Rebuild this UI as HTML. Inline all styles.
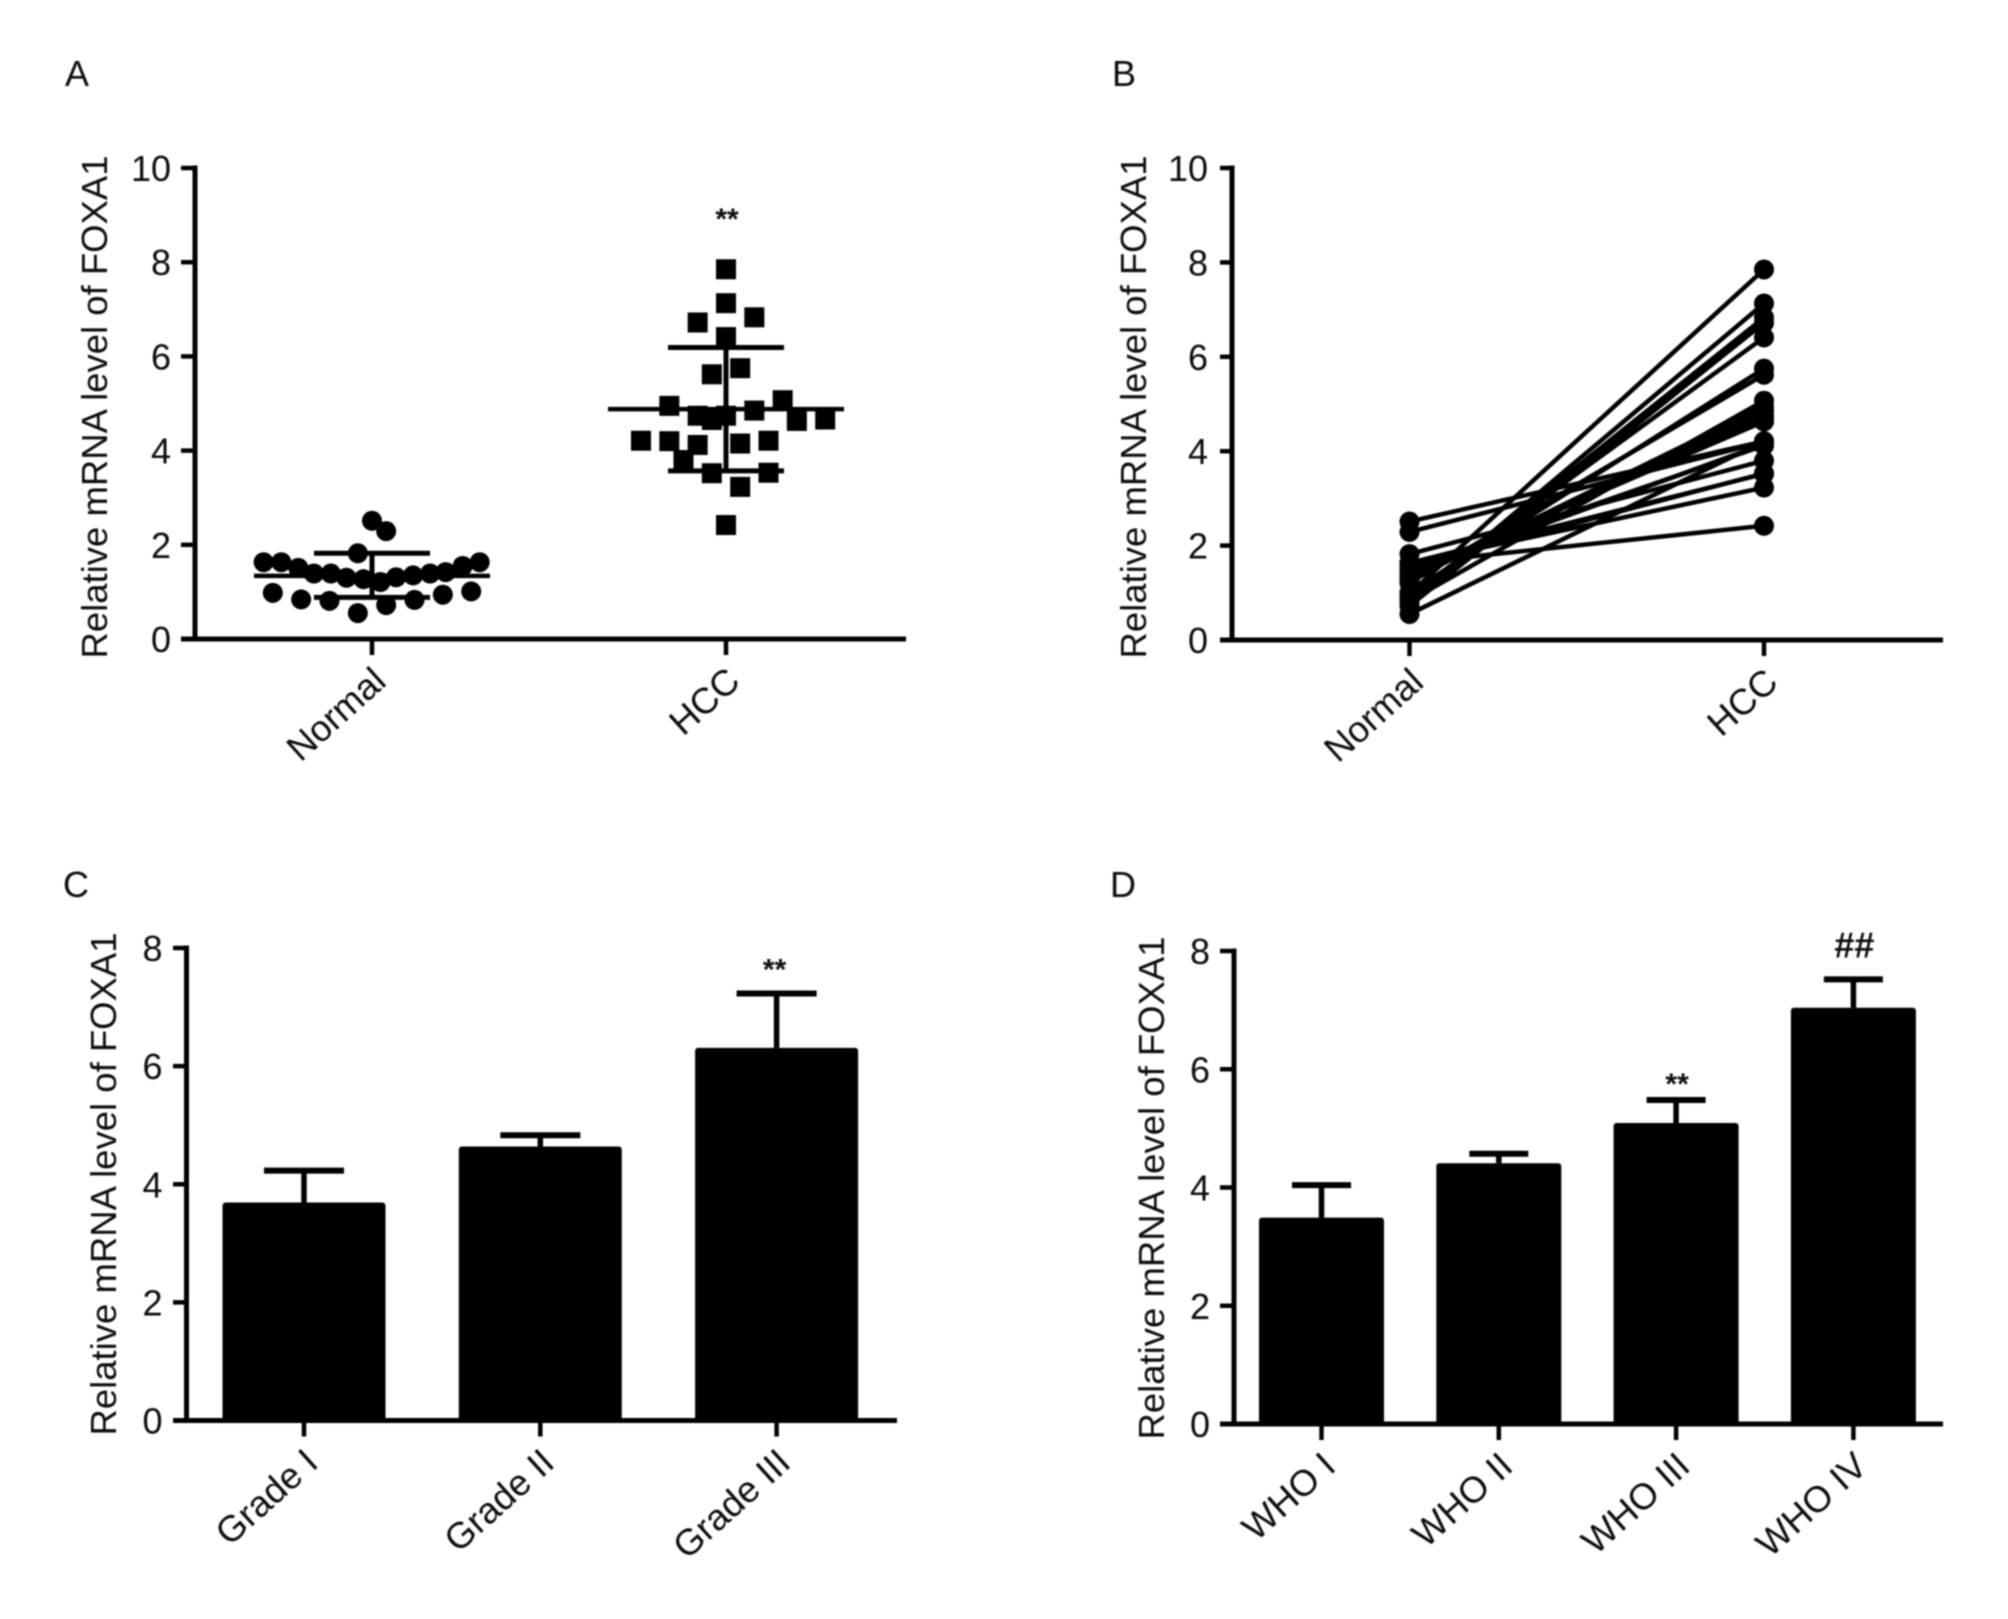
<!DOCTYPE html>
<html lang="en">
<head>
<meta charset="utf-8">
<title>Relative mRNA level of FOXA1</title>
<style>
html,body{margin:0;padding:0;background:#fff;}
svg{display:block;}
text{font-family:"Liberation Sans",Arial,sans-serif;fill:#0c0c0c;}
</style>
</head>
<body>
<svg id="figure" xmlns="http://www.w3.org/2000/svg" width="2008" height="1619" viewBox="0 0 2008 1619">
  <defs><filter id="soft" x="-5%" y="-5%" width="110%" height="110%"><feGaussianBlur stdDeviation="0.7"/></filter></defs>
  <rect x="0" y="0" width="2008" height="1619" fill="#fff"/>
  <g id="root" filter="url(#soft)"></g>
</svg>
<script>
// Panel A: dot plot values
const categoriesAB = ['Normal', 'HCC'];
const ticksAB = [0, 2, 4, 6, 8, 10];
const normalValues = [2.51, 2.29, 1.82, 1.63, 1.63, 1.63, 1.55, 1.51, 1.39, 1.39, 1.30, 1.27, 1.21, 1.31, 1.35, 1.39, 1.42, 0.98, 0.84, 0.81, 0.55, 0.72, 0.83, 0.94, 1.01];
const normalSwarm = [0, 1, -1, -7.65, -6.4, 7.6, 6.4, -5.2, -4.1, -2.9, -1.8, -0.6, 0.6, 1.7, 2.9, 4.1, 5.2, -7, -5, -3, -1, 1, 3, 5, 7];
const hccValues = [7.85, 7.13, 6.72, 6.83, 6.41, 5.62, 5.75, 4.95, 5.07, 4.85, 4.74, 4.65, 4.74, 4.63, 4.66, 4.21, 4.20, 4.12, 4.15, 4.21, 3.80, 3.52, 3.53, 3.23, 2.42];
const hccSwarm = [0, 0, -2, 2, 0, -1, 1, -4, 4, 2, -2, -1, 0, 5, 7, -6, -4, -2, 1, 3, -3, -1, 3, 1, 0];
const scatterMeans = [1.34, 4.88];
const scatterUpper = [1.82, 6.19];
const scatterLower = [0.885, 3.57];

// Panel B: paired samples
const pairedNormal = [0.98, 0.81, 0.84, 0.72, 0.94, 1.01, 1.21, 0.83, 1.27, 1.30, 1.31, 1.35, 1.39, 1.39, 1.39, 0.55, 2.51, 2.29, 1.42, 1.51, 1.82, 1.55, 1.63, 1.63, 1.63];
const pairedHcc = [7.85, 7.13, 6.83, 6.72, 6.41, 5.75, 5.62, 5.07, 4.95, 4.85, 4.74, 4.74, 4.66, 4.65, 4.63, 4.21, 4.21, 4.20, 4.15, 4.12, 3.80, 3.53, 3.52, 3.23, 2.42];

// Panel C: grade bars
const gradeCategories = ['Grade I', 'Grade II', 'Grade III'];
const gradeMeans = [3.69, 4.64, 6.31];
const gradeErrors = [4.23, 4.83, 7.23];
const gradeMarks = ['', '', '**'];

// Panel D: WHO bars
const whoCategories = ['WHO I', 'WHO II', 'WHO III', 'WHO IV'];
const whoMeans = [3.49, 4.41, 5.09, 7.04];
const whoErrors = [4.04, 4.57, 5.48, 7.52];
const whoMarks = ['', '', '**', '##'];
const ticksCD = [0, 2, 4, 6, 8];

const NS = 'http://www.w3.org/2000/svg';
const root = document.getElementById('root');
const INK = '#000';

function make(tag, attrs, parent) {
  const n = document.createElementNS(NS, tag);
  for (const k in attrs) n.setAttribute(k, attrs[k]);
  parent.appendChild(n);
  return n;
}
function lineEl(parent, x1, y1, x2, y2, w) {
  return make('line', {x1, y1, x2, y2, stroke: INK, 'stroke-width': w}, parent);
}
function scaleY(cfg, v) { return cfg.y0 - (v / cfg.max) * (cfg.y0 - cfg.yTop); }
function scaleX(cfg, i) { return cfg.xFirst + i * cfg.xStep; }

function drawAxes(cfg, ticks, cats) {
  const g = make('g', {}, root);
  
  

  const letter = make('text', {x: cfg.letterX, y: cfg.letterY, 'font-size': 36}, g);
  letter.textContent = cfg.id;
  
  

  const yAxis = lineEl(g, cfg.xAxisAt, cfg.yTop - 2.5, cfg.xAxisAt, cfg.y0 + 2.5, 5);
  
  
  const xAxis = lineEl(g, cfg.xStart, cfg.y0, cfg.xEnd, cfg.y0, 5);
  
  

  ticks.forEach(t => {
    const y = scaleY(cfg, t);
    const tick = lineEl(g, cfg.xStart, y, cfg.xAxisAt, y, 4.5);
    
    
    const label = make('text', {x: cfg.xAxisAt - 24, y: y + 13, 'font-size': 36, 'text-anchor': 'end'}, g);
    label.textContent = String(t);
    
    
  });

  cats.forEach((c, i) => {
    const x = scaleX(cfg, i);
    const tick = lineEl(g, x, cfg.y0, x, cfg.y0 + 16, 4.5);
    
    
    const ax = x + 16, ay = cfg.y0 + 45;
    const label = make('text', {x: ax, y: ay, 'font-size': 36.5, 'text-anchor': 'end', transform: 'rotate(-42 ' + ax + ' ' + ay + ')'}, g);
    label.textContent = c;
    
    
  });

  const title = make('text', {x: 0, y: 0, 'font-size': 36.5, 'text-anchor': 'middle', transform: 'translate(' + cfg.titleX + ' ' + cfg.titleY + ') rotate(-90)'}, g);
  title.textContent = 'Relative mRNA level of FOXA1';
  
  
}

function drawStar(parent, x, y, txt, size) {
  const t = make('text', {x, y, 'font-size': size, 'font-weight': 'bold', 'text-anchor': 'middle'}, parent);
  t.textContent = txt;
  
  
}

function drawBars(cfg, cats, means, errs, marks) {
  const g = make('g', {}, root);
  
  
  cats.forEach((c, i) => {
    const x = scaleX(cfg, i);
    const top = scaleY(cfg, means[i]);
    const errY = scaleY(cfg, errs[i]);
    const stem = lineEl(g, x, errY, x, top, 5.5);
    
    
    const cap = lineEl(g, x - cfg.capW / 2, errY, x + cfg.capW / 2, errY, 6);
    
    
    const bar = make('rect', {x: x - cfg.barW / 2, y: top, width: cfg.barW, height: cfg.y0 - top, fill: INK, rx: 3}, g);
    
    
    if (marks[i]) {
      const hash = marks[i] === '##';
      drawStar(g, x + (hash ? 1 : cfg.starDx), errY + (hash ? -22 : cfg.starDy), marks[i], hash ? 36 : 30);
    }
  });
}

const cfgA = {id: 'A', y0: 639, yTop: 168, max: 10, xAxisAt: 195, xStart: 181, xEnd: 906, xFirst: 372, xStep: 354, titleX: 107, titleY: 407, letterX: 65, letterY: 86};
const cfgB = {id: 'B', y0: 640, yTop: 168, max: 10, xAxisAt: 1232, xStart: 1220, xEnd: 1943, xFirst: 1409.5, xStep: 354.5, titleX: 1146, titleY: 407, letterX: 1112, letterY: 86};
const cfgC = {id: 'C', y0: 1420.5, yTop: 948, max: 8, xAxisAt: 186.5, xStart: 173, xEnd: 897, xFirst: 304, xStep: 236.3, barW: 163, capW: 80, starDx: -2, starDy: -14, titleX: 116, titleY: 1184, letterX: 63, letterY: 897};
const cfgD = {id: 'D', y0: 1424, yTop: 951, max: 8, xAxisAt: 1234, xStart: 1220, xEnd: 1943, xFirst: 1321.5, xStep: 177.3, barW: 125, capW: 59, starDx: 1, starDy: -6, titleX: 1164, titleY: 1188, letterX: 1110, letterY: 897};

// Panel A
drawAxes(cfgA, ticksAB, categoriesAB);
const gA = make('g', {}, root);


const SWARM_STEP = 14.17;
normalValues.forEach((v, i) => {
  const c = make('circle', {cx: scaleX(cfgA, 0) + normalSwarm[i] * SWARM_STEP, cy: scaleY(cfgA, v), r: 10, fill: INK}, gA);
  
  
});
hccValues.forEach((v, i) => {
  const s = 20;
  const r = make('rect', {x: scaleX(cfgA, 1) + hccSwarm[i] * SWARM_STEP - s / 2, y: scaleY(cfgA, v) - s / 2, width: s, height: s, fill: INK}, gA);
  
  
});
categoriesAB.forEach((c, i) => {
  const x = scaleX(cfgA, i);
  const mean = lineEl(gA, x - 118, scaleY(cfgA, scatterMeans[i]), x + 118, scaleY(cfgA, scatterMeans[i]), 4.5);
  
  
  const stem = lineEl(gA, x, scaleY(cfgA, scatterUpper[i]), x, scaleY(cfgA, scatterLower[i]), 5);
  
  
  const up = lineEl(gA, x - 58, scaleY(cfgA, scatterUpper[i]), x + 58, scaleY(cfgA, scatterUpper[i]), 5);
  
  
  const lo = lineEl(gA, x - 58, scaleY(cfgA, scatterLower[i]), x + 58, scaleY(cfgA, scatterLower[i]), 5);
  
  
});
drawStar(gA, 727, 229, '**', 30);

// Panel B
drawAxes(cfgB, ticksAB, categoriesAB);
const gB = make('g', {}, root);


pairedNormal.forEach((v, i) => {
  const x0 = scaleX(cfgB, 0), x1 = scaleX(cfgB, 1);
  const y0 = scaleY(cfgB, v), y1 = scaleY(cfgB, pairedHcc[i]);
  const l = lineEl(gB, x0, y0, x1, y1, 4.5);
  
  
  const a = make('circle', {cx: x0, cy: y0, r: 10, fill: INK}, gB);
  
  
  const b = make('circle', {cx: x1, cy: y1, r: 10, fill: INK}, gB);
  
  
});

// Panel C
drawAxes(cfgC, ticksCD, gradeCategories);
drawBars(cfgC, gradeCategories, gradeMeans, gradeErrors, gradeMarks);

// Panel D
drawAxes(cfgD, ticksCD, whoCategories);
drawBars(cfgD, whoCategories, whoMeans, whoErrors, whoMarks);
</script>
</body>
</html>
